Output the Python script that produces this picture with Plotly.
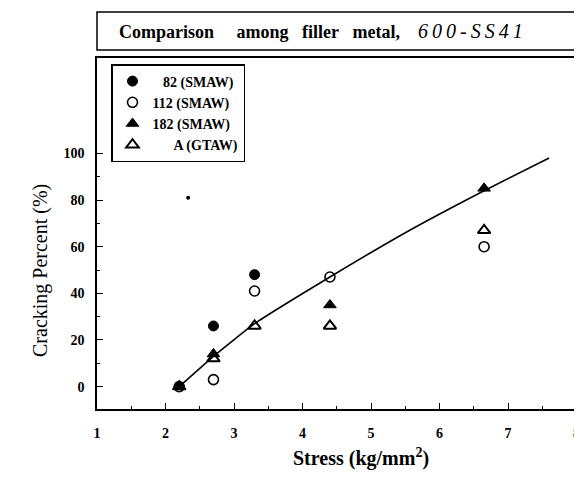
import plotly.graph_objects as go

# ---- data ----
stress_82 = [2.7, 3.3]
crack_82 = [26, 48]
stress_112 = [2.2, 2.7, 3.3, 4.4, 6.65]
crack_112 = [0, 3, 41, 47, 60]
stress_182 = [2.2, 2.7, 4.4, 6.65]
crack_182 = [0, 14, 35, 85]
stress_A = [2.2, 2.7, 3.3, 4.4, 6.65]
crack_A = [0, 12, 26, 26, 67]
fit_x = [2.2, 2.7, 3.3, 4.4, 5.5, 6.65, 7.6]
fit_y = [0, 13, 27, 47, 66, 84, 98]
stray_x = [2.33]
stray_y = [81]

x_ticks = [1, 2, 3, 4, 5, 6, 7, 8]
y_ticks = [0, 20, 40, 60, 80, 100]

FONT = "Liberation Serif, Times New Roman, serif"

fig = go.Figure()

fig.add_trace(go.Scatter(x=fit_x, y=fit_y, mode="lines",
                         line=dict(color="black", width=1.6, shape="spline", smoothing=0.4),
                         showlegend=False, hoverinfo="skip"))
fig.add_trace(go.Scatter(x=stray_x, y=stray_y, mode="markers",
                         marker=dict(symbol="circle", size=4, color="black"),
                         showlegend=False))

fig.add_trace(go.Scatter(x=stress_82, y=crack_82, mode="markers", name="&nbsp;&nbsp;&nbsp;82 (SMAW)",
                         legendgroup="a",
                         marker=dict(symbol="circle", size=10, color="black",
                                     line=dict(color="black", width=1))))
fig.add_trace(go.Scatter(x=stress_112, y=crack_112, mode="markers", name="112 (SMAW)",
                         legendgroup="b",
                         marker=dict(symbol="circle-open", size=10, color="black",
                                     line=dict(color="black", width=1.6))))
fig.add_trace(go.Scatter(x=stress_182, y=crack_182, mode="markers", name="182 (SMAW)",
                         legendgroup="c",
                         marker=dict(symbol="triangle-up", size=11, color="black",
                                     line=dict(color="black", width=1))))
fig.add_trace(go.Scatter(x=stress_A, y=crack_A, mode="markers", name="&nbsp;&nbsp;&nbsp;&nbsp;&nbsp;&nbsp;A (GTAW)",
                         legendgroup="d",
                         marker=dict(symbol="triangle-up-open", size=11, color="black",
                                     line=dict(color="black", width=2))))

axis_common = dict(showline=True, linecolor="black", linewidth=1.5, mirror=True,
                   showgrid=False, zeroline=False, ticks="inside", tickcolor="black",
                   tickwidth=1.2, ticklen=6, automargin=False,
                   tickfont=dict(family=FONT, size=14, color="black", weight="bold"))

fig.update_xaxes(range=[1, 8.05], tickvals=x_ticks, ticktext=[str(v) for v in x_ticks],
                 ticklabelstandoff=10,
                 minor=dict(tickvals=[1.5, 2.5, 3.5, 4.5, 5.5, 6.5, 7.5], ticks="inside",
                            ticklen=3, tickcolor="black", tickwidth=1),
                 **axis_common)
fig.update_yaxes(range=[-9.6, 140.9], tickvals=y_ticks, ticktext=[str(v) for v in y_ticks],
                 ticklabelstandoff=8,
                 minor=dict(tickvals=[10, 30, 50, 70, 90], ticks="inside",
                            ticklen=3, tickcolor="black", tickwidth=1),
                 **axis_common)

# title box
fig.add_shape(type="rect", xref="paper", yref="paper", x0=0, x1=1.02, y0=1.0228, y1=1.131,
              line=dict(color="black", width=1.5), fillcolor="white")
italic_part = "&#8201;".join(list("600-SS41"))
fig.add_annotation(xref="paper", yref="paper", x=0.041, y=1.077, xanchor="left", yanchor="middle",
                   showarrow=False,
                   text=("<b>Comparison&nbsp;&nbsp;&nbsp;&nbsp; among&nbsp;&nbsp; filler&nbsp;&nbsp; metal,</b>"
                         "&nbsp;&nbsp;&nbsp; <i><span style='font-size:20px'>" + italic_part + "</span></i>"),
                   font=dict(family=FONT, size=18, color="black"))
# axis titles
fig.add_annotation(xref="paper", yref="paper", x=(361 - 97) / 483, y=(409 - 457) / 351,
                   xanchor="center", yanchor="middle", showarrow=False,
                   text="<b>Stress (kg/mm<sup>2</sup>)</b>",
                   font=dict(family=FONT, size=20, color="black"))
fig.add_annotation(xref="paper", yref="paper", x=(40 - 97) / 483, y=(409 - 271) / 351,
                   xanchor="center", yanchor="middle", showarrow=False, textangle=-90,
                   text="Cracking Percent (%)",
                   font=dict(family=FONT, size=20, color="black"))

fig.update_layout(
    width=574, height=479,
    margin=dict(l=89, r=2, t=50, b=78),
    paper_bgcolor="white", plot_bgcolor="white",
    legend=dict(x=(111 - 97) / 483, y=(409 - 64) / 351, xanchor="left", yanchor="top",
                bordercolor="black", borderwidth=1.5, bgcolor="white",
                font=dict(family=FONT, size=14, color="black", weight="bold"),
                traceorder="grouped", tracegroupgap=0, itemwidth=30),
    showlegend=True,
)

fig.write_html("out.html")
